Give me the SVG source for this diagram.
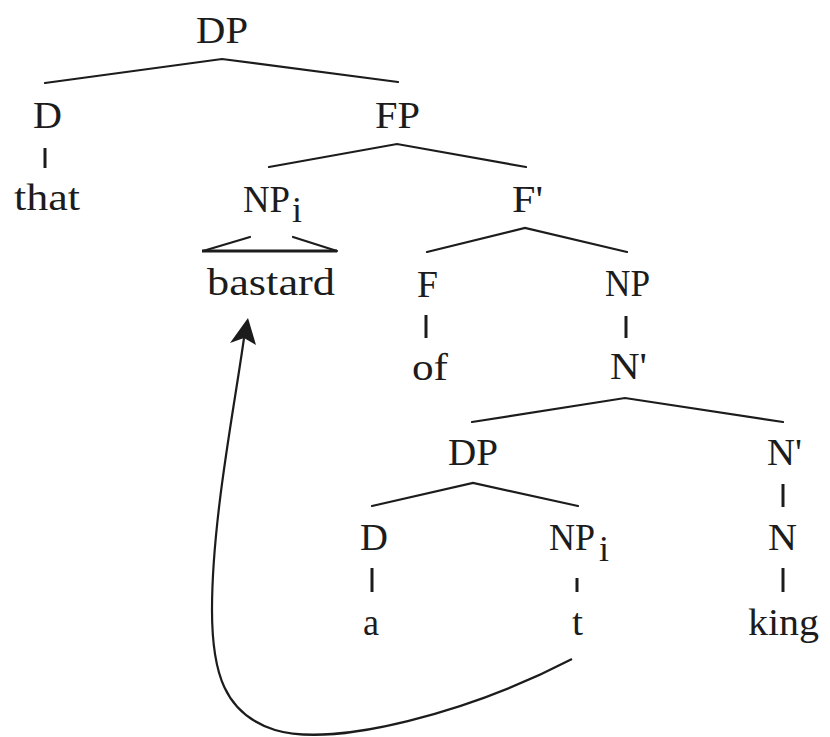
<svg xmlns="http://www.w3.org/2000/svg" width="830" height="737" viewBox="0 0 830 737">
<style>
text { font-family: "Liberation Serif", "DejaVu Serif", "Times New Roman", serif; fill: #1c1c1c; }
.lbl { font-size: 38px; }
.sub { font-size: 36px; }
.edge { stroke: #1c1c1c; stroke-width: 2.2; fill: none; stroke-linecap: round; }
.stem { stroke: #1c1c1c; stroke-width: 3; fill: none; }
.base { stroke: #1c1c1c; stroke-width: 3.2; fill: none; }
.move { stroke: #1c1c1c; stroke-width: 2.2; fill: none; }
</style>
<rect width="830" height="737" fill="#ffffff"/>
<g id="connectors">
  <polyline class="edge" points="45,83 222,59 398,82"/>
  <line class="stem" x1="45" y1="148" x2="45" y2="168"/>
  <polyline class="edge" points="269,167 397,144 526,167"/>
  <line class="edge" x1="203" y1="251" x2="250" y2="237"/>
  <line class="edge" x1="293" y1="237" x2="337" y2="251"/>
  <line class="base" x1="202" y1="251" x2="337" y2="251"/>
  <polyline class="edge" points="427,252 525,228 627,252"/>
  <line class="stem" x1="426" y1="315" x2="426" y2="338"/>
  <line class="stem" x1="626" y1="316" x2="626" y2="338"/>
  <polyline class="edge" points="472,422 625,398 783,422"/>
  <polyline class="edge" points="372,506 473,483 578,506"/>
  <line class="stem" x1="783" y1="484" x2="783" y2="507"/>
  <line class="stem" x1="372" y1="568" x2="372" y2="592"/>
  <line class="stem" x1="577" y1="578" x2="577" y2="592"/>
  <line class="stem" x1="783" y1="568" x2="783" y2="592"/>
  <path class="move" d="M 572 659 C 470 712, 335 748, 275 730 C 224 714, 212 672, 212 610 C 212 520, 234 410, 244 338"/>
  <polygon points="248,318 256,345 244,338 230,343" fill="#1c1c1c"/>
</g>
<g id="n-dp-top"><text class="lbl" x="196" y="43" textLength="52" lengthAdjust="spacingAndGlyphs">DP</text></g>
<g id="n-d-top"><text class="lbl" x="33" y="128" textLength="29" lengthAdjust="spacingAndGlyphs">D</text></g>
<g id="n-that"><text class="lbl" x="14" y="210" textLength="66" lengthAdjust="spacingAndGlyphs">that</text></g>
<g id="n-fp"><text class="lbl" x="375" y="128" textLength="45" lengthAdjust="spacingAndGlyphs">FP</text></g>
<g id="n-npi-top"><text class="lbl" x="243" y="212" textLength="47" lengthAdjust="spacingAndGlyphs">NP</text><text class="sub" x="292" y="222">i</text></g>
<g id="n-bastard"><text class="lbl" x="207" y="295" textLength="128" lengthAdjust="spacingAndGlyphs">bastard</text></g>
<g id="n-fbar"><text class="lbl" x="512" y="212" textLength="31" lengthAdjust="spacingAndGlyphs">F'</text></g>
<g id="n-f"><text class="lbl" x="417" y="297" textLength="21" lengthAdjust="spacingAndGlyphs">F</text></g>
<g id="n-of"><text class="lbl" x="412" y="380" textLength="36" lengthAdjust="spacingAndGlyphs">of</text></g>
<g id="n-np-right"><text class="lbl" x="605" y="296" textLength="45" lengthAdjust="spacingAndGlyphs">NP</text></g>
<g id="n-nbar-mid"><text class="lbl" x="610" y="379" textLength="37" lengthAdjust="spacingAndGlyphs">N'</text></g>
<g id="n-dp-low"><text class="lbl" x="448" y="465" textLength="50" lengthAdjust="spacingAndGlyphs">DP</text></g>
<g id="n-nbar-right"><text class="lbl" x="767" y="465" textLength="35" lengthAdjust="spacingAndGlyphs">N'</text></g>
<g id="n-d-low"><text class="lbl" x="360" y="550" textLength="28" lengthAdjust="spacingAndGlyphs">D</text></g>
<g id="n-npi-low"><text class="lbl" x="549" y="550" textLength="46" lengthAdjust="spacingAndGlyphs">NP</text><text class="sub" x="599" y="561">i</text></g>
<g id="n-n"><text class="lbl" x="768" y="550" textLength="29" lengthAdjust="spacingAndGlyphs">N</text></g>
<g id="n-a"><text class="lbl" x="363" y="635" textLength="16" lengthAdjust="spacingAndGlyphs">a</text></g>
<g id="n-t"><text class="lbl" x="572" y="635" textLength="11" lengthAdjust="spacingAndGlyphs">t</text></g>
<g id="n-king"><text class="lbl" x="748" y="635" textLength="71" lengthAdjust="spacingAndGlyphs">king</text></g>
</svg>
